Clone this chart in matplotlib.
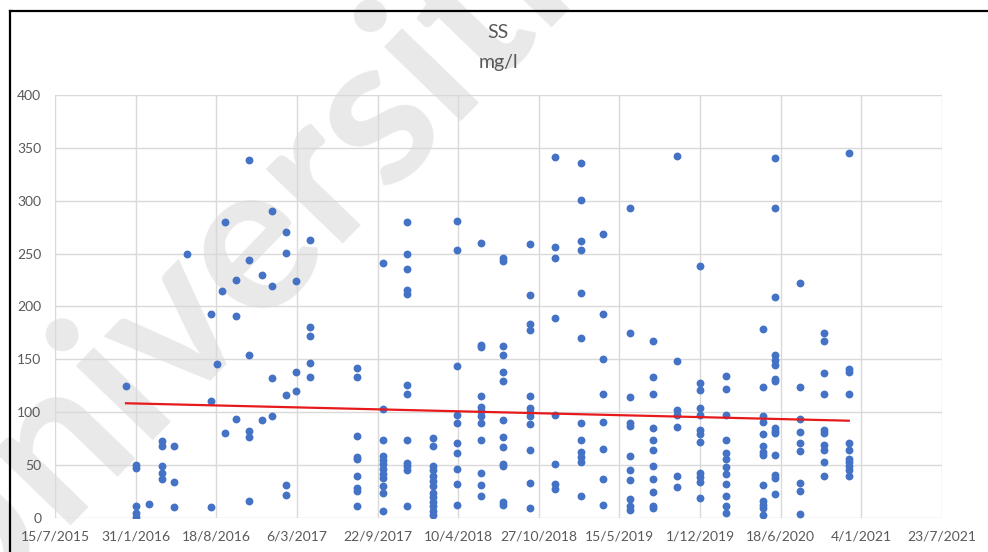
import matplotlib
matplotlib.use("Agg")
import matplotlib.pyplot as plt
from matplotlib.lines import Line2D
import pandas as pd

plt.rcParams["font.family"] = ["Lato", "DejaVu Sans"]
C_DOT = "#4472C4"
C_TREND = "#E8191B"
C_TXT = "#595959"
C_GRID = "#D9D9D9"

# sampling dates (read from the x position of each column of dots)
dates = ["2016-01-07", "2016-02-02", "2016-03-03", "2016-04-05", "2016-05-05",
         "2016-06-07", "2016-08-05", "2016-08-19", "2016-09-02", "2016-09-09",
         "2016-10-05", "2016-11-06", "2016-12-10", "2017-01-04", "2017-02-07",
         "2017-03-03", "2017-04-07", "2017-08-01", "2017-10-06", "2017-12-05",
         "2018-02-06", "2018-04-06", "2018-06-06", "2018-07-31", "2018-10-05",
         "2018-12-05", "2019-02-08", "2019-04-04", "2019-06-09", "2019-08-07",
         "2019-10-06", "2019-12-02", "2020-02-04", "2020-05-06", "2020-06-04",
         "2020-08-04", "2020-10-04", "2020-12-04"]

# SS (mg/l) measured on each date
ss_values = [
    [125],
    [50, 47, 11, 5, 1],
    [13],
    [73, 68, 49, 43, 37],
    [68, 34, 10],
    [250],
    [193, 111, 10],
    [146],
    [215],
    [280, 80],
    [225, 191, 94],
    [339, 244, 154, 82, 77, 16],
    [230, 93],
    [290, 219, 132, 96],
    [270, 251, 116, 31, 22],
    [224, 138, 120],
    [263, 181, 172, 147, 133],
    [142, 133, 78, 58, 56, 40, 28, 26, 11],
    [241, 103, 74, 59, 55, 51, 46, 42, 38, 30, 24, 7],
    [280, 250, 235, 216, 212, 126, 117, 74, 52, 49, 45, 11],
    [76, 68, 49, 45, 40, 35, 30, 24, 20, 15, 11, 7, 3],
    [281, 253, 144, 97, 90, 71, 61, 46, 32, 12],
    [260, 164, 162, 115, 105, 101, 96, 90, 74, 43, 31, 21],
    [246, 243, 163, 154, 138, 130, 93, 77, 67, 51, 49, 15, 12],
    [259, 211, 183, 178, 115, 104, 100, 96, 89, 64, 33, 9],
    [341, 256, 246, 189, 97, 51, 32, 27],
    [336, 301, 262, 253, 213, 170, 90, 74, 62, 58, 53, 21],
    [269, 193, 150, 117, 91, 65, 37, 12],
    [293, 175, 114, 90, 87, 59, 45, 36, 18, 11, 8],
    [167, 133, 117, 85, 74, 64, 49, 37, 25, 11, 9],
    [342, 148, 102, 97, 86, 40, 29],
    [238, 128, 121, 104, 97, 83, 79, 72, 43, 39, 34, 19],
    [134, 122, 97, 74, 61, 56, 48, 42, 32, 21, 11, 5],
    [179, 124, 96, 91, 79, 68, 62, 60, 31, 16, 12, 9, 3],
    [340, 293, 209, 154, 149, 145, 131, 130, 85, 82, 80, 60, 41, 38, 23],
    [222, 124, 94, 81, 71, 63, 33, 26, 4],
    [175, 167, 137, 117, 83, 80, 69, 64, 53, 40],
    [345, 141, 138, 117, 71, 64, 56, 53, 49, 45, 40],
]

# linear trend line, value at first and last sample date
trend_values = [108.5, 92]

tick_labels = ["15/7/2015", "31/1/2016", "18/8/2016", "6/3/2017", "22/9/2017",
               "10/4/2018", "27/10/2018", "15/5/2019", "1/12/2019", "18/6/2020",
               "4/1/2021", "23/7/2021"]
y_ticks = [0, 50, 100, 150, 200, 250, 300, 350, 400]

x_pts, y_pts = [], []
for d, vals in zip(dates, ss_values):
    for v in vals:
        x_pts.append(pd.Timestamp(d))
        y_pts.append(v)

tick_dates = pd.to_datetime(tick_labels, dayfirst=True)

fig = plt.figure(figsize=(9.88, 5.52), dpi=100)
ax = fig.add_axes([0.0557, 0.0616, 0.8977, 0.7663])
ax.set_facecolor("none")

ax.scatter(x_pts, y_pts, s=32, color=C_DOT, zorder=3, linewidths=0)
ax.plot([pd.Timestamp(dates[0]), pd.Timestamp(dates[-1])], trend_values,
        color=C_TREND, lw=1.6, zorder=4)

ax.set_xlim(tick_dates[0], tick_dates[-1])
ax.set_ylim(0, 400)
ax.set_xticks(tick_dates)
ax.set_xticklabels(tick_labels)
ax.set_yticks(y_ticks)
ax.grid(True, color=C_GRID, lw=1.0)
ax.set_axisbelow(True)
for s in ax.spines.values():
    s.set_visible(False)
ax.tick_params(length=0, colors=C_TXT, labelsize=10)
ax.tick_params(axis="x", pad=9)
ax.tick_params(axis="y", pad=10)

fig.text(0.5045, 0.942, "SS", ha="center", va="center", fontsize=14, color=C_TXT)
fig.text(0.5045, 0.886, "mg/l", ha="center", va="center", fontsize=14, color=C_TXT)

# faint watermark behind grid, labels and data
ax.text(-0.05, -0.15, "Universiti", transform=fig.transFigure, rotation=46,
        rotation_mode="anchor", ha="left", va="baseline", fontsize=150,
        fontweight="bold", color="#E9E9E9", zorder=0.2, clip_on=False)

# black frame of the screenshot (top and left edges)
fig.add_artist(Line2D([10 / 988, 1.0], [1 - 11 / 552, 1 - 11 / 552],
                      transform=fig.transFigure, color="black", lw=1.6))
fig.add_artist(Line2D([10 / 988, 10 / 988], [0, 1 - 11 / 552],
                      transform=fig.transFigure, color="black", lw=1.6))

fig.savefig("out.png", dpi=100)
